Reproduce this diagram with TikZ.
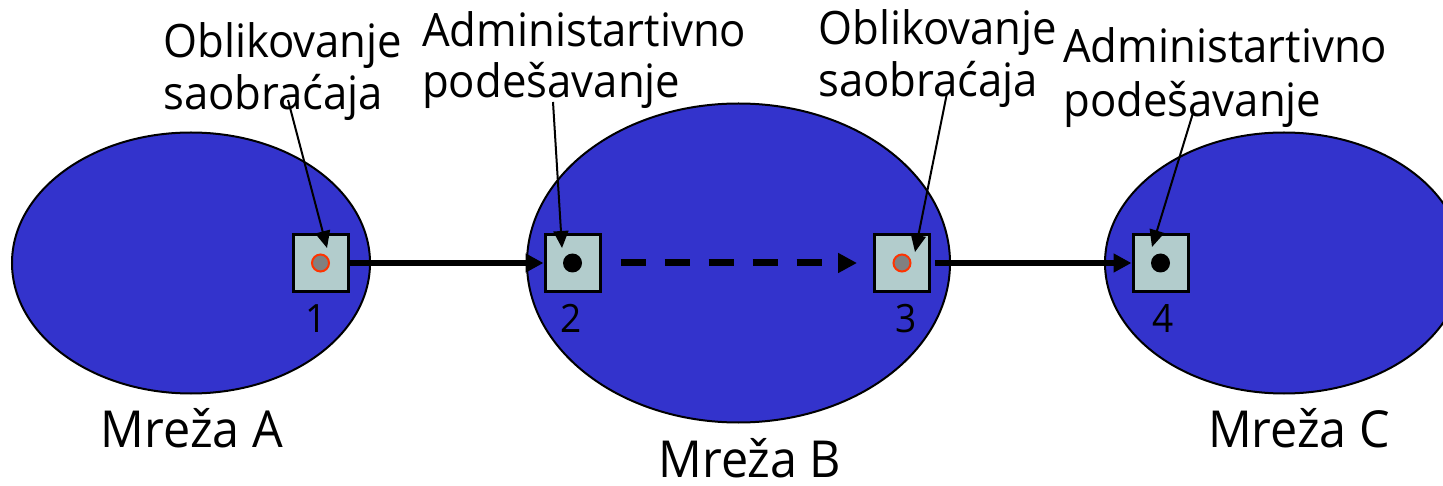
\documentclass[tikz,border=0pt]{standalone}
\usepackage{fontspec}
\usetikzlibrary{shapes.geometric,arrows.meta,calc}
\newfontfamily\labfont[FakeStretch=0.95]{Open Sans}
\definecolor{netblue}{RGB}{51,51,204}
\definecolor{boxfill}{RGB}{178,204,204}
\definecolor{ringred}{RGB}{255,51,0}
\definecolor{dotgray}{RGB}{128,128,128}
\tikzset{
  net/.style={ellipse, draw=black, line width=2pt, fill=netblue, inner sep=0pt},
  router/.style={rectangle, draw=black, line width=3pt, fill=boxfill, minimum width=55pt, minimum height=57pt, inner sep=0pt},
  ringdot/.style={circle, draw=ringred, line width=2pt, fill=dotgray, minimum size=17pt, inner sep=0pt},
  blackdot/.style={circle, fill=black, minimum size=19pt, inner sep=0pt},
  toplab/.style={anchor=base west, inner sep=0pt, font=\labfont\fontsize{46}{50}\selectfont},
  netlab/.style={anchor=base, inner sep=0pt, font=\labfont\fontsize{51}{56}\selectfont},
  numlab/.style={anchor=base, inner sep=0pt, font=\labfont\fontsize{39}{42}\selectfont},
  link/.style={line width=6pt, -{Triangle[length=18pt,width=18pt]}},
  dlink/.style={line width=7pt, dash pattern=on 25pt off 19pt, -{Triangle[length=19pt,width=19pt]}},
  pointer/.style={line width=2pt, -{Triangle[length=17pt,width=15pt]}}
}
\begin{document}
\begin{tikzpicture}[x=1pt,y=-1pt]
\useasboundingbox (0,0) rectangle (1443,486);
% networks
\node[net, minimum width=358pt, minimum height=261pt] (netA) at (191,263) {};
\node[net, minimum width=423pt, minimum height=319pt] (netB) at (738.5,263) {};
\node[net, minimum width=358pt, minimum height=261pt] (netC) at (1284,263) {};
% routers
\node[router] (box1) at (320.5,263) {};
\node[router] (box2) at (572.5,263) {};
\node[router] (box3) at (902,263) {};
\node[router] (box4) at (1160.5,263) {};
\node[ringdot] (dot1) at (box1) {};
\node[blackdot] (dot2) at (box2) {};
\node[ringdot] (dot3) at (box3) {};
\node[blackdot] (dot4) at (box4) {};
% numbers
\node[numlab] (n1) at (316,332) {1};
\node[numlab] (n2) at (571,332) {2};
\node[numlab] (n3) at (906,332) {3};
\node[numlab] (n4) at (1163,332) {4};
% links
\draw[link] (box1.east) -- (box2.west);
\draw[dlink, shorten <=19pt, shorten >=16pt] (box2.east) -- (box3.west);
\draw[link, shorten <=4pt] (box3.east) -- (box4.west);
% top labels
\node[toplab] (l1a) at (163,58) {Oblikovanje};
\node[toplab] (l1b) at (163,110) {saobraćaja};
\node[toplab] (l2a) at (422,47) {Administartivno};
\node[toplab] (l2b) at (422,98) {podešavanje};
\node[toplab] (l3a) at (818,45) {Oblikovanje};
\node[toplab] (l3b) at (818,97) {saobraćaja};
\node[toplab] (l4a) at (1063,63) {Administartivno};
\node[toplab] (l4b) at (1063,117) {podešavanje};
% pointers
\coordinate (p1s) at (288,100);
\coordinate (p1e) at (327,248);
\coordinate (p2s) at (553,102);
\coordinate (p2e) at (562,248);
\coordinate (p3s) at (947,93);
\coordinate (p3e) at (915,252);
\coordinate (p4s) at (1193,113);
\coordinate (p4e) at (1152,247);
\draw[pointer] (p1s) -- (p1e);
\draw[pointer] (p2s) -- (p2e);
\draw[pointer] (p3s) -- (p3e);
\draw[pointer] (p4s) -- (p4e);
% network labels
\node[netlab] (mA) at (192,447) {Mreža A};
\node[netlab] (mB) at (750,477) {Mreža B};
\node[netlab] (mC) at (1299,447) {Mreža C};
\end{tikzpicture}
\end{document}
